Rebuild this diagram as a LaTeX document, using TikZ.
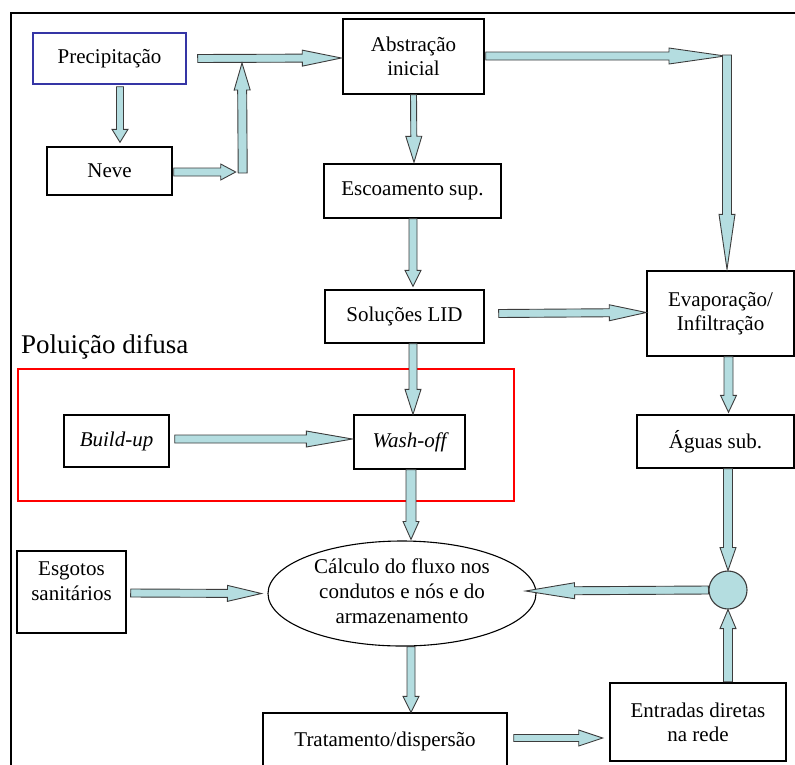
\documentclass[tikz,border=0pt]{standalone}
\usepackage{fontspec}
\setmainfont{Liberation Serif}
\usetikzlibrary{calc,shapes.geometric}
\definecolor{arrfill}{HTML}{B4DDE0}
\definecolor{arrline}{HTML}{3C3C3C}
\definecolor{precblue}{HTML}{3535A5}
\tikzset{
  blockarrow/.style={draw=arrline, fill=arrfill, line width=0.9pt, line join=miter},
  boxnode/.style={draw=black, line width=1.4pt, inner sep=0pt, align=center,
    font=\fontsize{21}{24}\selectfont},
  txt/.style={inner sep=0pt, align=center, font=\fontsize{21}{25}\selectfont},
}
% #1 half shaft width, #2 start, #3 end, #4 head length
\newcommand\blkarrow[4][4]{%
  \path #2 coordinate (ba-s) #3 coordinate (ba-e);
  \coordinate (ba-h) at ($(ba-e)!#4pt!(ba-s)$);
  \draw[blockarrow] ($(ba-s)!#1pt!90:(ba-e)$) -- ($(ba-h)!#1pt!90:(ba-e)$)
    -- ($(ba-h)!8pt!90:(ba-e)$) -- (ba-e) -- ($(ba-h)!8pt!-90:(ba-e)$)
    -- ($(ba-h)!#1pt!-90:(ba-e)$) -- ($(ba-s)!#1pt!-90:(ba-e)$) -- cycle;
}
\begin{document}
\begin{tikzpicture}[x=1pt,y=-1pt]
\useasboundingbox (0,0) rectangle (795,764);
\clip (0,0) rectangle (795,764);
% frame
\draw[line width=2pt] (11,770) -- (11,13) -- (800,13);

% nodes
\node[boxnode, draw=precblue, minimum width=153pt, minimum height=51pt] (prec) at (109.5,58.5) {Precipitação};
\node[boxnode, minimum width=125pt, minimum height=48pt] (neve) at (109.5,171) {Neve};
\node[boxnode, minimum width=141pt, minimum height=75pt] (abs) at (413.5,56.5) {Abstração\\inicial};
\node[boxnode, minimum width=177pt, minimum height=54pt] (esc) at (412.5,191) {Escoamento sup.};
\node[boxnode, minimum width=159pt, minimum height=53pt] (sol) at (404.5,316.5) {Soluções LID};
\node[boxnode, minimum width=147pt, minimum height=85pt] (evap) at (720.5,313.5) {Evaporação/\\Infiltração};
\node[boxnode, minimum width=157pt, minimum height=53pt] (aguas) at (715.5,441.5) {Águas sub.};
\node[boxnode, minimum width=105pt, minimum height=52pt] (build) at (116.5,441) {\itshape Build-up};
\node[boxnode, minimum width=111pt, minimum height=54pt] (wash) at (409.5,442) {\itshape Wash-off};
\node[draw=red, line width=2.6pt, minimum width=496pt, minimum height=132pt, inner sep=0pt] (poll) at (266,435) {};
\node[anchor=base west, inner sep=0pt, font=\fontsize{27}{30}\selectfont] (polltxt) at (21,353) {Poluição difusa};
\node[ellipse, draw=black, line width=1.1pt, minimum width=268pt, minimum height=105pt, inner sep=0pt] (calc) at (402,593.5) {};
\node[txt] (calctxt) at (402,591) {Cálculo do fluxo nos\\condutos e nós e do\\armazenamento};
\node[boxnode, minimum width=109pt, minimum height=82pt] (esg) at (71.5,592) {};
\node[txt] (esgtxt) at (71.5,581) {Esgotos\\sanitários};
\node[boxnode, minimum width=244pt, minimum height=60pt] (trat) at (385,743) {};
\node[txt] (trattxt) at (385,741) {Tratamento/dispersão};
\node[boxnode, line width=2.6pt, minimum width=176pt, minimum height=78pt] (entr) at (698,722) {Entradas diretas\\na rede};
\node[circle, draw=arrline, fill=arrfill, line width=1.1pt, minimum size=38pt, inner sep=0pt] (circ) at (728,590) {};

% connectors
\blkarrow{($(prec.east)+(11,0)$)}{($(abs.west)+(-1,1.5)$)}{39}
\coordinate (join) at (242,63);
\blkarrow[4.5]{($(neve.east)+(70,2)$)}{(join)}{27}
\blkarrow{($(neve.east)+(1,1)$)}{($(neve.east)+(63,1)$)}{15}
\blkarrow[3.5]{($(prec.south)+(10.5,2)$)}{($(neve.north)+(10.5,-4)$)}{13}
\coordinate (corner) at (727,56);
\blkarrow{($(abs.east)+(1,-0.5)$)}{($(corner)+(-2,0)$)}{56}
\blkarrow[4.5]{($(corner)+(0,-1)$)}{($(evap.north)+(6.5,-1)$)}{55}
\blkarrow[3]{($(abs.south)+(0,0)$)}{($(esc.north)+(1.5,-1)$)}{26}
\blkarrow{($(esc.south)+(0.5,0)$)}{($(sol.north)+(8.5,-3)$)}{16}
\blkarrow{($(sol.east)+(14,-3)$)}{($(evap.west)+(0,-1)$)}{37}
\blkarrow{($(sol.south)+(8.5,0)$)}{($(wash.north)+(3.5,0)$)}{25}
\blkarrow{($(build.east)+(5,-2)$)}{($(wash.west)+(-1,-3)$)}{46}
\blkarrow[4.5]{($(evap.south)+(8,0)$)}{($(aguas.north)+(13,-2)$)}{17}
\blkarrow[4.5]{($(aguas.south)+(12.5,0)$)}{(circ.north)}{23}
\blkarrow{(circ.west)}{($(calc.east)+(-11,-2.5)$)}{49}
\blkarrow[4.5]{($(entr.north)+(30,0)$)}{(circ.south)}{19}
\blkarrow[5]{($(wash.south)+(1.5,0)$)}{($(calc.north)+(9,-1)$)}{18}
\blkarrow{($(esg.east)+(4,1)$)}{($(calc.west)+(-6,0)$)}{34}
\blkarrow{($(calc.south)+(9,0)$)}{($(trat.north)+(26,0)$)}{16}
\blkarrow[3.5]{($(trat.east)+(6,-5)$)}{($(entr.west)+(-6,16)$)}{24}
\end{tikzpicture}
\end{document}
